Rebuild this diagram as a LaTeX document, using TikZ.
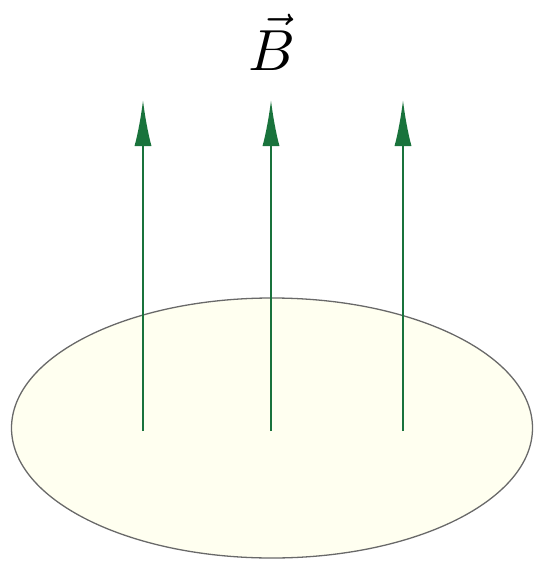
\documentclass[tikz,border=0pt]{standalone}
\usepackage{graphicx}
\usetikzlibrary{arrows.meta,shapes.geometric}
\definecolor{diskfill}{RGB}{255,255,240}
\definecolor{diskline}{RGB}{105,105,105}
\definecolor{fieldgreen}{RGB}{25,115,60}
\tikzset{
  disk/.style={ellipse, draw=diskline, fill=diskfill, line width=1.3pt, inner sep=0pt},
  fieldline/.style={draw=fieldgreen, line width=2pt, -{Latex[length=46pt,width=17pt]}},
  label/.style={anchor=base, inner sep=0pt}
}
\begin{document}
\begin{tikzpicture}[x=1pt,y=-1pt]
\useasboundingbox (0,0) rectangle (535,563);
\node[disk, minimum width=521pt, minimum height=260pt] (disk) at (272,428) {};
\coordinate (s1) at (143,431);
\coordinate (t1) at (143,100);
\coordinate (s2) at (271,431);
\coordinate (t2) at (271,100);
\coordinate (s3) at (403,431);
\coordinate (t3) at (403,100);
\draw[fieldline] (s1) -- (t1);
\draw[fieldline] (s2) -- (t2);
\draw[fieldline] (s3) -- (t3);
\node[label] (B) at (272,70) {\scalebox{5.8}{$\vec{B}$}};
\end{tikzpicture}
\end{document}
